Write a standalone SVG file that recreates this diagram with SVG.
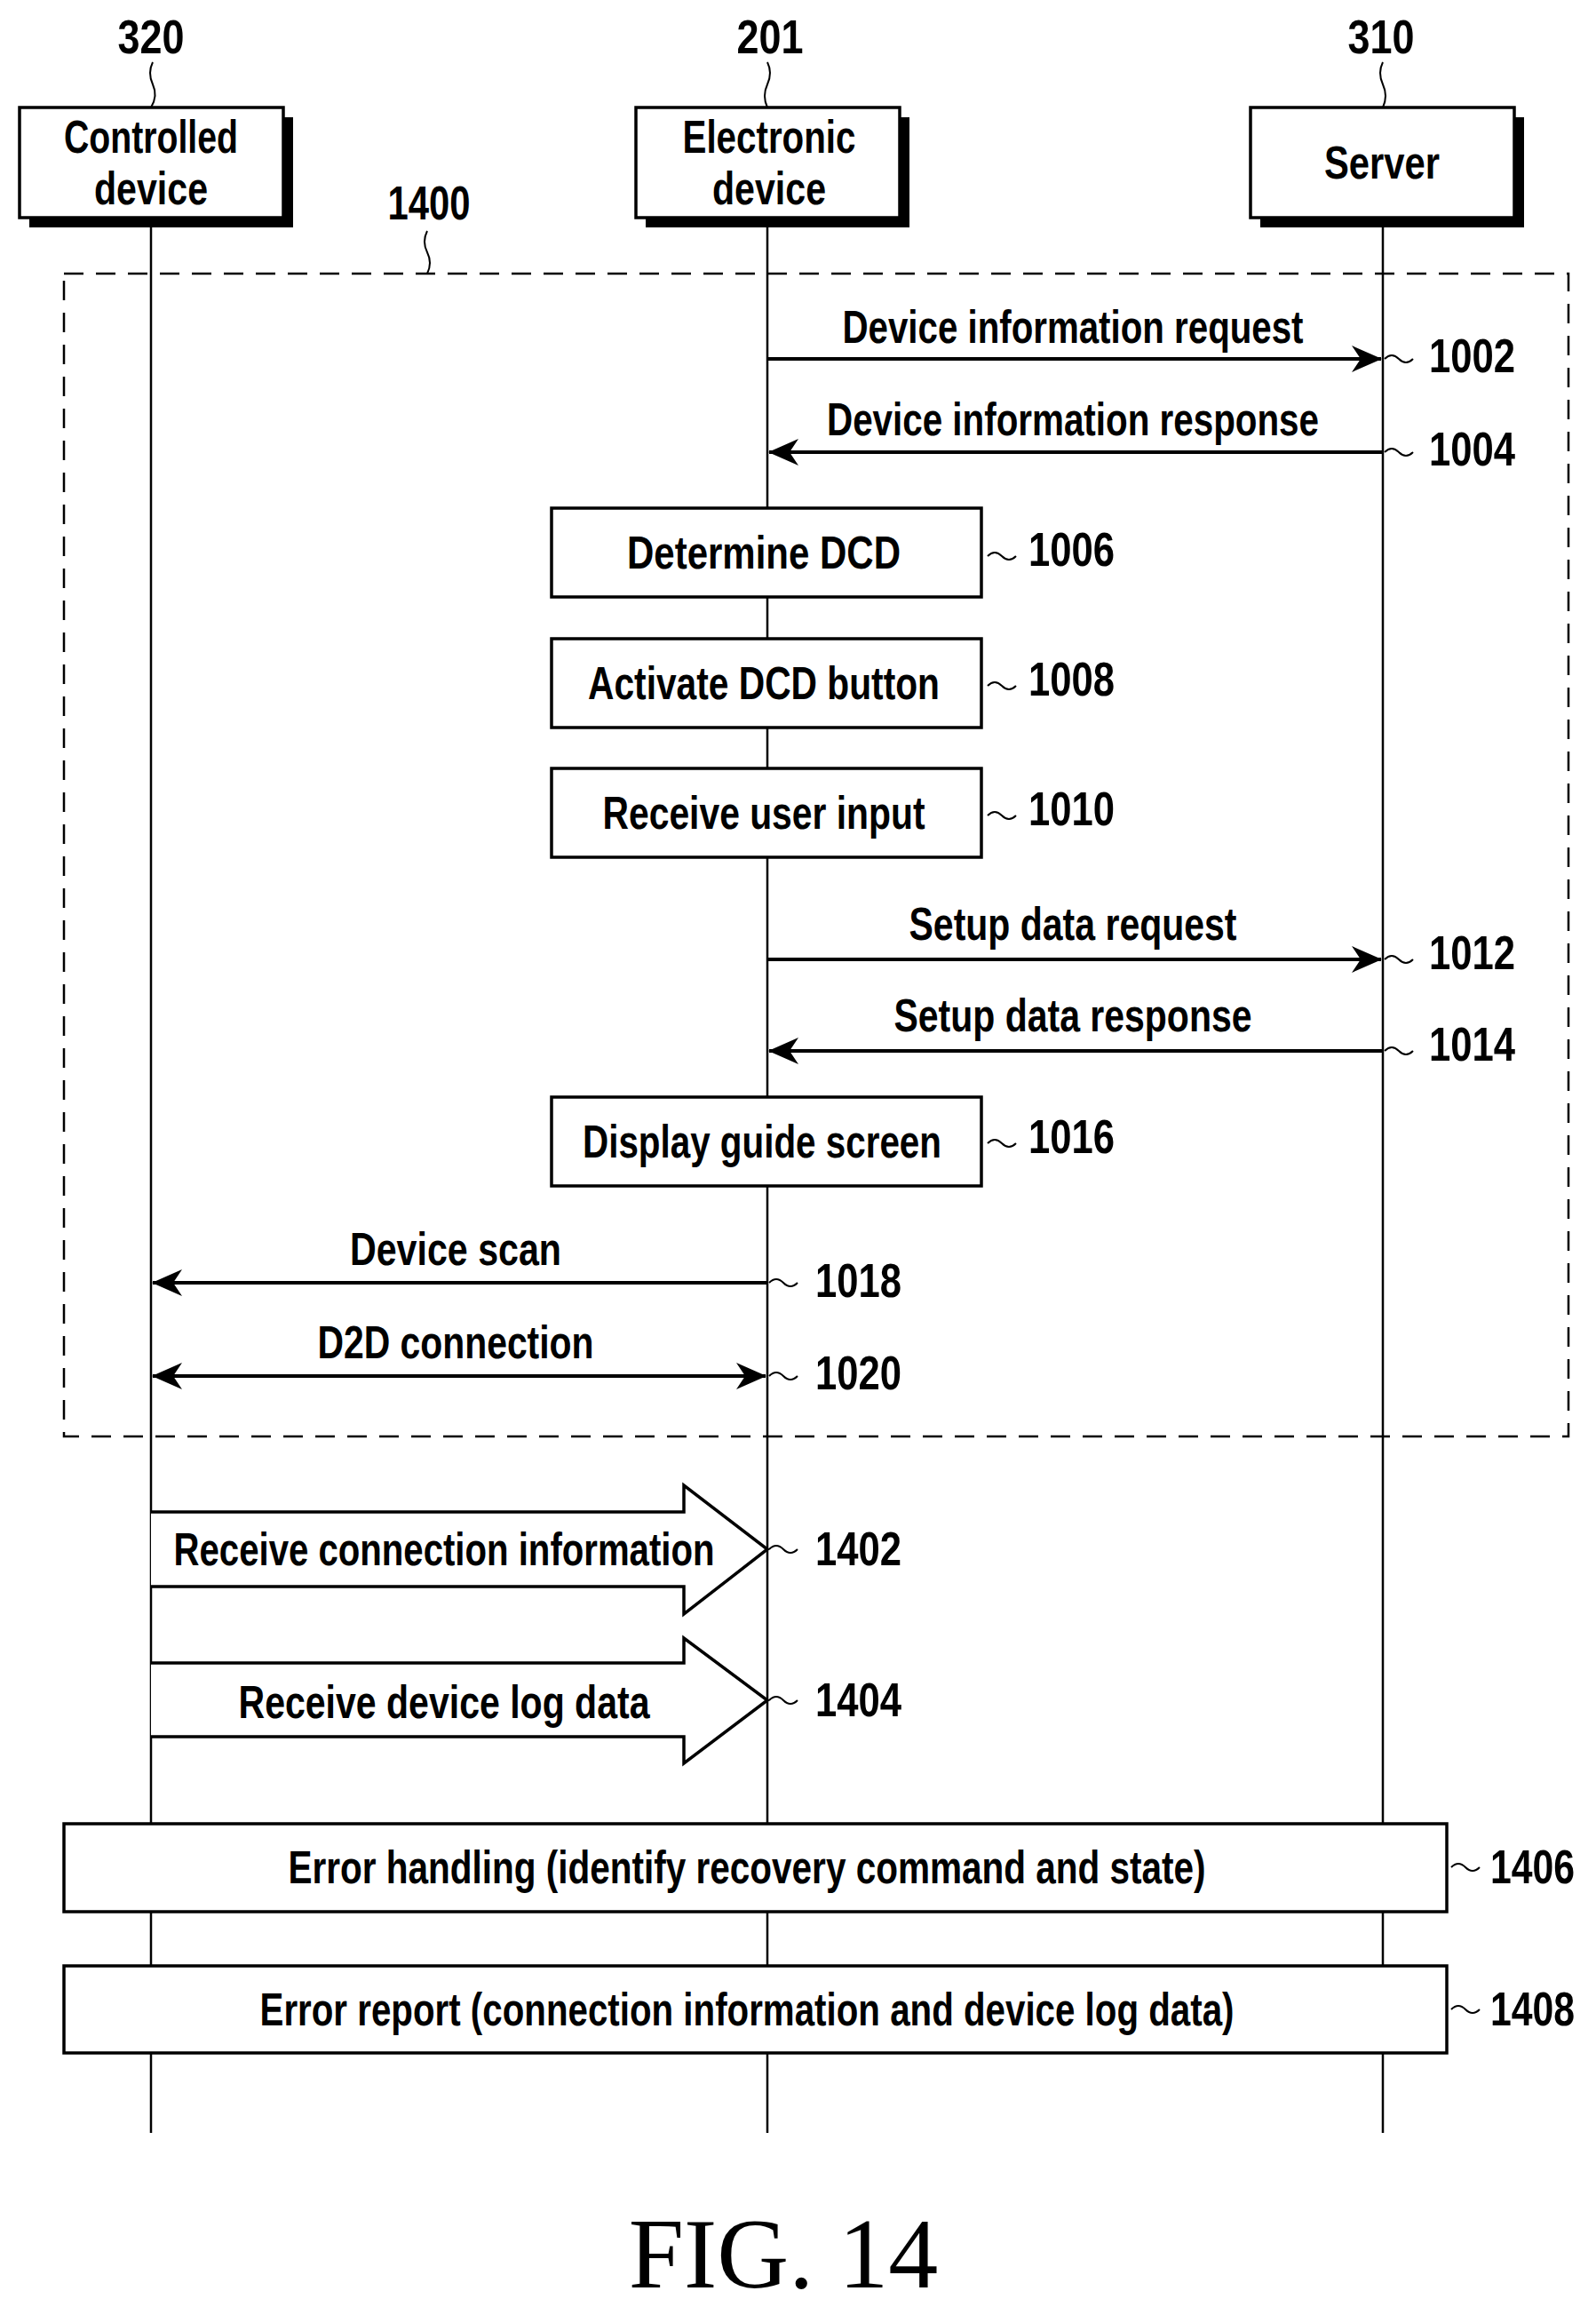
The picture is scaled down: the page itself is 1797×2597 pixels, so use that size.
<svg xmlns="http://www.w3.org/2000/svg" width="1797" height="2597" viewBox="0 0 1797 2597">
<style>
.t{font-family:"Liberation Sans",Arial,sans-serif;font-weight:bold;font-size:52px;fill:#000}
.n{font-family:"Liberation Sans",Arial,sans-serif;font-weight:bold;font-size:54px;fill:#000}
.box{fill:#fff;stroke:#000;stroke-width:3.5}
.ln{stroke:#000;stroke-width:2.5;fill:none}
.msg{stroke:#000;stroke-width:4;fill:none}
.sq{stroke:#000;stroke-width:2;fill:none}
</style>
<defs>
<marker id="a" markerWidth="34" markerHeight="30" refX="33" refY="15" orient="auto-start-reverse" markerUnits="userSpaceOnUse"><path d="M0,0 L34,15 L0,30 L10,15 Z" fill="#000"/></marker>
</defs>
<rect width="1797" height="2597" fill="#fff"/>

<g id="lifelines">
<line class="ln" x1="170" y1="245" x2="170" y2="2401"/>
<line class="ln" x1="864" y1="245" x2="864" y2="2401"/>
<line class="ln" x1="1557" y1="245" x2="1557" y2="2401"/>
</g>

<g id="frame1400">
<rect x="72" y="308" width="1694" height="1309" fill="none" stroke="#000" stroke-width="2.5" stroke-dasharray="22,14"/>
<text class="n" x="483" y="247" text-anchor="middle" textLength="93" lengthAdjust="spacingAndGlyphs">1400</text>
<path class="sq" d="M481,260 q-6,12 0,24 t0,24"/>
</g>

<g id="node320">
<text class="n" x="170" y="60" text-anchor="middle" textLength="75" lengthAdjust="spacingAndGlyphs">320</text>
<path class="sq" d="M172,70 q-6,12 0,25 t-2,26"/>
<rect x="33" y="132" width="297" height="124" fill="#000"/>
<rect class="box" x="22" y="121" width="297" height="124"/>
<text class="t" x="170" y="172" text-anchor="middle" textLength="196" lengthAdjust="spacingAndGlyphs">Controlled</text>
<text class="t" x="170" y="230" text-anchor="middle" textLength="128" lengthAdjust="spacingAndGlyphs">device</text>
</g>
<g id="node201">
<text class="n" x="867" y="60" text-anchor="middle" textLength="75" lengthAdjust="spacingAndGlyphs">201</text>
<path class="sq" d="M864,70 q6,12 0,25 t0,26"/>
<rect x="727" y="132" width="297" height="124" fill="#000"/>
<rect class="box" x="716" y="121" width="297" height="124"/>
<text class="t" x="866" y="172" text-anchor="middle" textLength="195" lengthAdjust="spacingAndGlyphs">Electronic</text>
<text class="t" x="866" y="230" text-anchor="middle" textLength="128" lengthAdjust="spacingAndGlyphs">device</text>
</g>
<g id="node310">
<text class="n" x="1555" y="60" text-anchor="middle" textLength="75" lengthAdjust="spacingAndGlyphs">310</text>
<path class="sq" d="M1557,70 q-6,12 0,25 t0,26"/>
<rect x="1419" y="132" width="297" height="124" fill="#000"/>
<rect class="box" x="1408" y="121" width="297" height="124"/>
<text class="t" x="1556" y="201" text-anchor="middle" textLength="130" lengthAdjust="spacingAndGlyphs">Server</text>
</g>

<g id="connectors">
<line class="msg" x1="864" y1="404" x2="1555" y2="404" marker-end="url(#a)"/>
<line class="msg" x1="1557" y1="509" x2="866" y2="509" marker-end="url(#a)"/>
<line class="msg" x1="864" y1="1080" x2="1555" y2="1080" marker-end="url(#a)"/>
<line class="msg" x1="1557" y1="1183" x2="866" y2="1183" marker-end="url(#a)"/>
<line class="msg" x1="864" y1="1444" x2="172" y2="1444" marker-end="url(#a)"/>
<line class="msg" x1="172" y1="1549" x2="862" y2="1549" marker-start="url(#a)" marker-end="url(#a)"/>
</g>

<g id="labels">
<text class="t" x="1208" y="386" text-anchor="middle" textLength="519" lengthAdjust="spacingAndGlyphs">Device information request</text>
<text class="t" x="1208" y="490" text-anchor="middle" textLength="554" lengthAdjust="spacingAndGlyphs">Device information response</text>
<text class="t" x="1208" y="1058" text-anchor="middle" textLength="369" lengthAdjust="spacingAndGlyphs">Setup data request</text>
<text class="t" x="1208" y="1161" text-anchor="middle" textLength="403" lengthAdjust="spacingAndGlyphs">Setup data response</text>
<text class="t" x="513" y="1424" text-anchor="middle" textLength="238" lengthAdjust="spacingAndGlyphs">Device scan</text>
<text class="t" x="513" y="1529" text-anchor="middle" textLength="311" lengthAdjust="spacingAndGlyphs">D2D connection</text>
</g>

<g id="refs">
<path class="sq" d="M1559,404 q8,-8 16,0 t16,0"/><text class="n" x="1609" y="419" textLength="97" lengthAdjust="spacingAndGlyphs">1002</text>
<path class="sq" d="M1559,509 q8,-8 16,0 t16,0"/><text class="n" x="1609" y="524" textLength="97" lengthAdjust="spacingAndGlyphs">1004</text>
<path class="sq" d="M1112,626 q8,-8 16,0 t16,0"/><text class="n" x="1158" y="637" textLength="97" lengthAdjust="spacingAndGlyphs">1006</text>
<path class="sq" d="M1112,772 q8,-8 16,0 t16,0"/><text class="n" x="1158" y="783" textLength="97" lengthAdjust="spacingAndGlyphs">1008</text>
<path class="sq" d="M1112,918 q8,-8 16,0 t16,0"/><text class="n" x="1158" y="929" textLength="97" lengthAdjust="spacingAndGlyphs">1010</text>
<path class="sq" d="M1559,1080 q8,-8 16,0 t16,0"/><text class="n" x="1609" y="1091" textLength="97" lengthAdjust="spacingAndGlyphs">1012</text>
<path class="sq" d="M1559,1183 q8,-8 16,0 t16,0"/><text class="n" x="1609" y="1194" textLength="97" lengthAdjust="spacingAndGlyphs">1014</text>
<path class="sq" d="M1112,1287 q8,-8 16,0 t16,0"/><text class="n" x="1158" y="1298" textLength="97" lengthAdjust="spacingAndGlyphs">1016</text>
<path class="sq" d="M866,1444 q8,-8 16,0 t16,0"/><text class="n" x="918" y="1460" textLength="97" lengthAdjust="spacingAndGlyphs">1018</text>
<path class="sq" d="M866,1549 q8,-8 16,0 t16,0"/><text class="n" x="918" y="1564" textLength="97" lengthAdjust="spacingAndGlyphs">1020</text>
<path class="sq" d="M866,1744 q8,-8 16,0 t16,0"/><text class="n" x="918" y="1762" textLength="97" lengthAdjust="spacingAndGlyphs">1402</text>
<path class="sq" d="M866,1914 q8,-8 16,0 t16,0"/><text class="n" x="918" y="1932" textLength="97" lengthAdjust="spacingAndGlyphs">1404</text>
<path class="sq" d="M1634,2102 q8,-8 16,0 t16,0"/><text class="n" x="1678" y="2120" textLength="95" lengthAdjust="spacingAndGlyphs">1406</text>
<path class="sq" d="M1634,2262 q8,-8 16,0 t16,0"/><text class="n" x="1678" y="2280" textLength="95" lengthAdjust="spacingAndGlyphs">1408</text>
</g>

<g id="n1006"><rect class="box" x="621" y="572" width="484" height="100"/>
<text class="t" x="860" y="640" text-anchor="middle" textLength="308" lengthAdjust="spacingAndGlyphs">Determine DCD</text></g>
<g id="n1008"><rect class="box" x="621" y="719" width="484" height="100"/>
<text class="t" x="860" y="787" text-anchor="middle" textLength="396" lengthAdjust="spacingAndGlyphs">Activate DCD button</text></g>
<g id="n1010"><rect class="box" x="621" y="865" width="484" height="100"/>
<text class="t" x="860" y="933" text-anchor="middle" textLength="363" lengthAdjust="spacingAndGlyphs">Receive user input</text></g>
<g id="n1016"><rect class="box" x="621" y="1235" width="484" height="100"/>
<text class="t" x="858" y="1303" text-anchor="middle" textLength="404" lengthAdjust="spacingAndGlyphs">Display guide screen</text></g>

<g id="n1402"><path d="M170,1702 H770 V1672 L864,1744 L770,1817 V1786 H170" fill="#fff" stroke="#000" stroke-width="3.5"/>
<text class="t" x="500" y="1762" text-anchor="middle" textLength="609" lengthAdjust="spacingAndGlyphs">Receive connection information</text></g>
<g id="n1404"><path d="M170,1872 H770 V1844 L864,1914 L770,1985 V1955 H170" fill="#fff" stroke="#000" stroke-width="3.5"/>
<text class="t" x="500" y="1934" text-anchor="middle" textLength="463" lengthAdjust="spacingAndGlyphs">Receive device log data</text></g>

<g id="n1406"><rect class="box" x="72" y="2053" width="1557" height="99"/>
<text class="t" x="841" y="2120" text-anchor="middle" textLength="1033" lengthAdjust="spacingAndGlyphs">Error handling (identify recovery command and state)</text></g>
<g id="n1408"><rect class="box" x="72" y="2213" width="1557" height="98"/>
<text class="t" x="841" y="2280" text-anchor="middle" textLength="1097" lengthAdjust="spacingAndGlyphs">Error report (connection information and device log data)</text></g>

<text x="882" y="2575" text-anchor="middle" font-family="'Liberation Serif','Times New Roman',serif" font-size="112">FIG. 14</text>
</svg>
